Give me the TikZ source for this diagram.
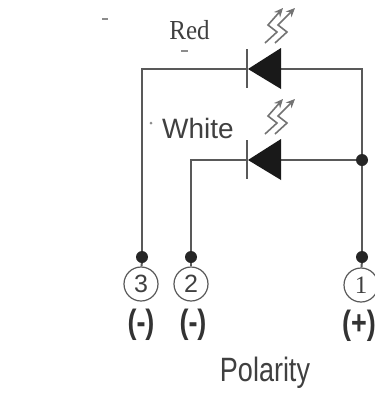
\documentclass[tikz,border=0pt]{standalone}
\usepackage{fontspec}
\setmainfont{Liberation Sans}
\newfontfamily\serifface{Liberation Serif}
\usepackage{tikz}
\usetikzlibrary{arrows.meta}
\definecolor{wiregray}{gray}{0.35}
\definecolor{raygray}{gray}{0.45}
\definecolor{textgray}{gray}{0.25}
\tikzset{
  wire/.style={draw=wiregray, line width=2pt},
  dotnode/.style={circle, fill=black!85, inner sep=0pt, minimum size=12pt},
  pinnode/.style={circle, draw=wiregray, line width=1.2pt, fill=white, inner sep=0pt, minimum size=34pt, font=\fontsize{25}{25}\selectfont, text=textgray},
  signnode/.style={inner sep=0pt, yscale=1.25, font=\fontsize{27}{27}\selectfont\bfseries, text=black!80},
  namenode/.style={inner sep=0pt, text=textgray},
  ray/.style={draw=raygray, line width=1.6pt, -{Stealth[length=9pt, width=8pt]}},
  speck/.style={draw=black!45, line width=1.2pt}
}

\begin{document}
\begin{tikzpicture}[x=1pt, y=-1pt]
    % Background
    \useasboundingbox[fill=white] (0,0) rectangle (375,394);

    % Pins
    \node[dotnode] (pinc) at (142,257) {};
    \node[dotnode] (pinb) at (191,257) {};
    \node[dotnode] (pina) at (362,257) {};
    \node[dotnode] (junction) at (362,160) {};

    \node[pinnode] (circc) at (141,284) {3};
    \node[pinnode] (circb) at (191,284) {2};
    \node[pinnode, font=\fontsize{25}{25}\selectfont\serifface] (circa) at (361,285) {1};

    \node[signnode] (signc) at (141,325) {(-)};
    \node[signnode] (signb) at (193,325) {(-)};
    \node[signnode] (signa) at (359,326) {(+)};

    % Diode ends
    \coordinate (redk) at (247,69);
    \coordinate (reda) at (281,69);
    \coordinate (whitek) at (247,160);
    \coordinate (whitea) at (281,160);

    % Wires
    \draw[wire] (redk) -| (pinc);
    \draw[wire] (reda) -| (junction);
    \draw[wire] (whitek) -| (pinb);
    \draw[wire] (whitea) -- (junction);
    \draw[wire] (junction) -- (pina);
    \draw[wire] (pinc) -- (circc);
    \draw[wire] (pinb) -- (circb);
    \draw[wire] (pina) -- (circa);

    % Diodes and rays
    \foreach \y in {69, 160} {
      \draw[wiregray, line width=2pt] (247, \y - 20) -- (247, \y + 19);
      \fill[black!90] (248, \y) -- (281, \y - 21) -- (281, \y + 20) -- cycle;
      \foreach \x in {0, 10} {
        \draw[ray] (265 + \x, \y - 26) -- (277 + \x, \y - 37) -- (268 + \x, \y - 44) -- (283 + 1.2*\x, \y - 61);
      }
    }

    % Specks
    \draw[speck] (102,19) -- (108,19);
    \draw[speck] (181,51) -- (188,51);
    \fill[black!45] (151,123) circle (1.5pt);

    % Labels
    \node[namenode, yscale=1.1, font=\fontsize{25}{25}\selectfont\serifface] (redlabel) at (189.5,30.5) {Red};
    \node[namenode, font=\fontsize{28}{28}\selectfont] (whitelabel) at (198,128) {White};
    \node[namenode, yscale=1.25, font=\fontsize{27}{27}\selectfont] (polarity) at (265,373) {Polarity};
\end{tikzpicture}
\end{document}
